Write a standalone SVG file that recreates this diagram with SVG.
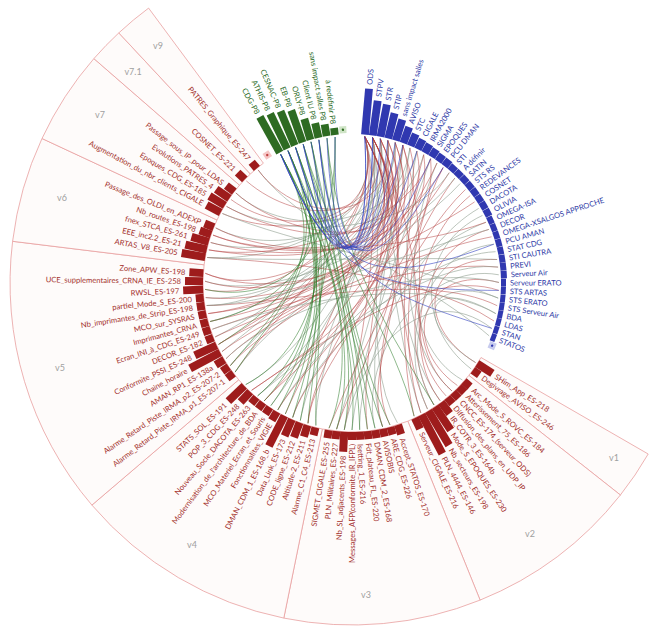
<svg xmlns="http://www.w3.org/2000/svg" width="651" height="635" viewBox="0 0 651 635">
<style>
.sec{fill:#fefbfa;stroke:#e9a0a0;stroke-width:0.8}
.vl{font-family:Lato,'Open Sans',sans-serif;font-size:9px;fill:#a0a0a0;text-anchor:middle}
#nodes text{font-family:Lato,'Open Sans',sans-serif;font-size:7.6px}
.r rect{fill:#9e1c1c}.r text{fill:#a3302c}
.b rect{fill:#3038b0}.b text{fill:#2e3aa6;font-size:8.4px}
.g rect{fill:#2e6b22}.g text{fill:#2a6a1e;font-size:8px}
.L text{text-anchor:end}
#links path{fill:none;stroke-width:0.9}
#links .er{stroke:#b13a3a;stroke-opacity:.55}
#links .eg{stroke:#8c9c8c;stroke-opacity:.65}
#links .ev{stroke:#2f7d2a;stroke-opacity:.6}
#links .eb{stroke:#3040c0;stroke-opacity:.65}
.mk-r{fill:#f5c6c6}.mk-g{fill:#cfe4c6}.mk-b{fill:#c7cbee}
</style>
<g id="sectors">
<path class="sec" d="M481,357.5 L648.2,454 A342 342 0 0 1 620.4,495 L468.9,375.4 A149 149 0 0 0 481,357.5 Z"/>
<path class="sec" d="M468.9,375.4 L620.4,495 A342 342 0 0 1 480.1,600.1 L407.8,421.2 A149 149 0 0 0 468.9,375.4 Z"/>
<path class="sec" d="M407.8,421.2 L480.1,600.1 A342 342 0 0 1 283.8,618.1 L322.3,429 A149 149 0 0 0 407.8,421.2 Z"/>
<path class="sec" d="M322.3,429 L283.8,618.1 A342 342 0 0 1 91.9,505.1 L238.7,379.8 A149 149 0 0 0 322.3,429 Z"/>
<path class="sec" d="M238.7,379.8 L91.9,505.1 A342 342 0 0 1 12.6,241.3 L204.1,264.8 A149 149 0 0 0 238.7,379.8 Z"/>
<path class="sec" d="M204.1,264.8 L12.6,241.3 A342 342 0 0 1 42,138.5 L217,220 A149 149 0 0 0 204.1,264.8 Z"/>
<path class="sec" d="M217,220 L42,138.5 A342 342 0 0 1 93.9,58.6 L239.5,185.2 A149 149 0 0 0 217,220 Z"/>
<path class="sec" d="M239.5,185.2 L93.9,58.6 A342 342 0 0 1 118.8,32.9 L250.4,174 A149 149 0 0 0 239.5,185.2 Z"/>
<path class="sec" d="M250.4,174 L118.8,32.9 A342 342 0 0 1 148.6,8.1 L263.4,163.2 A149 149 0 0 0 250.4,174 Z"/>
<text class="vl" x="614" y="461">v1</text>
<text class="vl" x="530" y="537">v2</text>
<text class="vl" x="366" y="598">v3</text>
<text class="vl" x="192" y="548">v4</text>
<text class="vl" x="60" y="371">v5</text>
<text class="vl" x="62" y="201">v6</text>
<text class="vl" x="100" y="118">v7</text>
<text class="vl" x="133" y="75">v7.1</text>
<text class="vl" x="158" y="49">v9</text>
</g>
<g id="links">
<path class="er" d="M475.6,362.6 C414,325 423.5,256.6 497.1,259.5"/>
<path class="eg" d="M475.6,362.6 C414,325 423.1,271.3 495.8,313.6"/>
<path class="eg" d="M471.2,369 C414,325 419.5,244.6 482.5,215.4"/>
<path class="eg" d="M462.4,380 C397,343 407.1,230.4 437,163"/>
<path class="er" d="M457.4,385.5 C397,343 424,262.9 499,282.5"/>
<path class="eg" d="M451.9,390.9 C397,343 401.7,227.1 416.9,151.1"/>
<path class="er" d="M446.1,395.9 C397,343 421.2,248.4 488.9,229.4"/>
<path class="eg" d="M440.1,400.7 C397,343 391.7,223.7 380.3,138.7"/>
<path class="er" d="M434,405 C397,343 416.2,239.2 470.2,195.6"/>
<path class="eg" d="M434,405 C397,343 423.8,267.1 498.2,298.1"/>
<path class="er" d="M427.5,409.1 C397,343 395.8,224.8 395.2,142.5"/>
<path class="eg" d="M427.5,409.1 C397,343 422.6,252.4 493.8,244.2"/>
<path class="eg" d="M420.8,412.9 C397,343 387.5,223.2 364.8,136.6"/>
<path class="er" d="M420.8,412.9 C397,343 408.8,231.6 443.1,167.6"/>
<path class="er" d="M414.1,416.2 C397,343 403.5,228.1 423.7,154.7"/>
<path class="eg" d="M397.4,422.8 C358,358 389.6,223.4 372.5,137.4"/>
<path class="er" d="M390,425 C358,358 412,234.4 454.9,178"/>
<path class="eg" d="M382.6,426.8 C358,358 397.8,225.5 402.8,145"/>
<path class="eg" d="M375,428.2 C358,358 423.9,260.8 498.8,274.8"/>
<path class="er" d="M367.4,429.2 C358,358 393.7,224.2 387.8,140.4"/>
<path class="eg" d="M359.7,429.8 C358,358 418.5,242.7 478.7,208.4"/>
<path class="eg" d="M352,430 C358,358 405.4,229.2 430.6,158.7"/>
<path class="er" d="M344.3,429.8 C358,358 387.5,223.2 364.8,136.6"/>
<path class="eg" d="M344.3,429.8 C358,358 422,275.3 491.8,328.4"/>
<path class="eg" d="M336.6,429.2 C358,358 399.7,226.2 409.9,147.9"/>
<path class="er" d="M329,428.2 C358,358 414.8,237.6 465.4,189.5"/>
<path class="eg" d="M315.9,425.5 C314,348 391.7,223.7 380.3,138.7"/>
<path class="er" d="M308,423.3 C314,348 410.4,233 449.2,172.7"/>
<path class="eg" d="M300.3,420.6 C314,348 389.6,223.4 372.5,137.4"/>
<path class="eg" d="M292.7,417.5 C314,348 423.1,254.5 495.6,251.7"/>
<path class="er" d="M285.3,414 C314,348 387.5,223.2 364.8,136.6"/>
<path class="eg" d="M277.8,409.9 C314,348 420.4,246.5 485.9,222.3"/>
<path class="eg" d="M270.9,405.6 C314,348 393.7,224.2 387.8,140.4"/>
<path class="er" d="M264.2,400.9 C314,348 407.1,230.4 437,163"/>
<path class="eg" d="M257.7,395.8 C314,348 397.8,225.5 402.8,145"/>
<path class="er" d="M251.6,390.3 C314,348 423.9,265 498.8,290.4"/>
<path class="eg" d="M245.7,384.6 C314,348 389.6,223.4 372.5,137.4"/>
<path class="er" d="M235.1,372.1 C280,305 387.5,223.2 364.8,136.6"/>
<path class="eg" d="M235.1,372.1 C280,305 413.4,235.9 460.2,183.5"/>
<path class="eg" d="M230.4,365.6 C280,305 395.8,224.8 395.2,142.5"/>
<path class="er" d="M226,358.7 C280,305 422,250.4 491.6,236.8"/>
<path class="eg" d="M222,351.6 C280,305 391.7,223.7 380.3,138.7"/>
<path class="er" d="M218.5,344.4 C280,305 408.8,231.6 443.1,167.6"/>
<path class="eg" d="M215.2,336.9 C280,305 389.6,223.4 372.5,137.4"/>
<path class="er" d="M212.4,329.2 C280,305 423.7,258.7 498.1,267.1"/>
<path class="eg" d="M210.1,321.5 C280,305 399.7,226.2 409.9,147.9"/>
<path class="er" d="M208.2,313.6 C280,305 417.3,240.9 474.6,201.9"/>
<path class="eg" d="M206.7,305.5 C280,305 393.7,224.2 387.8,140.4"/>
<path class="er" d="M206.7,305.5 C280,305 423.5,269.2 497.2,305.7"/>
<path class="eg" d="M205.7,297.6 C280,305 403.5,228.1 423.7,154.7"/>
<path class="er" d="M205.1,289.4 C280,305 387.5,223.2 364.8,136.6"/>
<path class="eg" d="M205,281.2 C280,305 412,234.4 454.9,178"/>
<path class="er" d="M205.3,273.3 C280,305 397.8,225.5 402.8,145"/>
<path class="eg" d="M207.2,257.5 C280,262 387.5,223.2 364.8,136.6"/>
<path class="er" d="M207.2,257.5 C280,262 422.6,273.3 494,321"/>
<path class="er" d="M208.8,249.9 C280,262 405.4,229.2 430.6,158.7"/>
<path class="eg" d="M210.7,242.5 C280,262 389.6,223.4 372.5,137.4"/>
<path class="er" d="M213,235.1 C280,262 420.4,246.5 485.9,222.3"/>
<path class="eg" d="M215.7,227.9 C280,262 395.8,224.8 395.2,142.5"/>
<path class="er" d="M222.4,213.5 C289,242 391.7,223.7 380.3,138.7"/>
<path class="eg" d="M226.5,206.4 C289,242 410.4,233 449.2,172.7"/>
<path class="er" d="M231,199.5 C289,242 387.5,223.2 364.8,136.6"/>
<path class="eg" d="M235.8,192.9 C289,242 401.7,227.1 416.9,151.1"/>
<path class="er" d="M246.3,180.9 C301,228 389.6,223.4 372.5,137.4"/>
<path class="eg" d="M258.1,169.9 C301,228 421.2,277.4 489.2,335.9"/>
<path class="er" d="M258.1,169.9 C301,228 393.7,224.2 387.8,140.4"/>
<path class="er" d="M230.4,365.6 C280,305 440,265 372.5,137.4"/>
<path class="er" d="M222,351.6 C280,305 440,265 364.8,136.6"/>
<path class="er" d="M215.2,336.9 C280,305 440,265 387.8,140.4"/>
<path class="er" d="M210.1,321.5 C280,305 440,265 380.3,138.7"/>
<path class="er" d="M208.2,313.6 C280,305 440,265 395.2,142.5"/>
<path class="er" d="M205.7,297.6 C280,305 440,265 372.5,137.4"/>
<path class="er" d="M205,281.2 C280,305 440,265 364.8,136.6"/>
<path class="er" d="M205.3,273.3 C280,305 440,265 409.9,147.9"/>
<path class="er" d="M218.5,344.4 C280,305 440,265 423.7,154.7"/>
<path class="er" d="M208.8,249.9 C280,262 440,265 380.3,138.7"/>
<path class="er" d="M210.7,242.5 C280,262 440,265 402.8,145"/>
<path class="er" d="M213,235.1 C280,262 440,265 416.9,151.1"/>
<path class="er" d="M215.7,227.9 C280,262 440,265 364.8,136.6"/>
<path class="er" d="M226.5,206.4 C289,242 440,265 372.5,137.4"/>
<path class="er" d="M235.8,192.9 C289,242 440,265 387.8,140.4"/>
<path class="er" d="M308,423.3 C314,348 440,265 380.3,138.7"/>
<path class="er" d="M292.7,417.5 C314,348 440,265 430.6,158.7"/>
<path class="er" d="M277.8,409.9 C314,348 440,265 372.5,137.4"/>
<path class="er" d="M264.2,400.9 C314,348 440,265 364.8,136.6"/>
<path class="er" d="M251.6,390.3 C314,348 440,265 395.2,142.5"/>
<path class="er" d="M382.6,426.8 C358,358 440,265 364.8,136.6"/>
<path class="er" d="M336.6,429.2 C358,358 440,265 372.5,137.4"/>
<path class="er" d="M451.9,390.9 C397,343 440,265 372.5,137.4"/>
<path class="er" d="M440.1,400.7 C397,343 440,265 402.8,145"/>
<path class="eg" d="M226,358.7 C280,305 424,262.9 499,282.5"/>
<path class="eg" d="M212.4,329.2 C280,305 423.1,271.3 495.8,313.6"/>
<path class="eg" d="M207.2,257.5 C280,262 423.5,256.6 497.1,259.5"/>
<path class="eg" d="M222.4,213.5 C289,242 423.8,267.1 498.2,298.1"/>
<path class="eg" d="M257.7,395.8 C314,348 423.7,258.7 498.1,267.1"/>
<path class="eg" d="M206.7,305.5 C280,305 421.2,248.4 488.9,229.4"/>
<path class="ev" d="M280.7,154.4 C337,258 314,348 300.3,420.6"/>
<path class="ev" d="M280.7,154.4 C337,258 314,348 270.9,405.6"/>
<path class="ev" d="M280.7,154.4 C337,258 280,305 230.4,365.6"/>
<path class="ev" d="M280.7,154.4 C337,258 358,358 336.6,429.2"/>
<path class="ev" d="M280.7,154.4 C337,258 358,358 352,430"/>
<path class="ev" d="M288,150.7 C337,258 314,348 315.9,425.5"/>
<path class="ev" d="M288,150.7 C337,258 314,348 285.3,414"/>
<path class="ev" d="M288,150.7 C337,258 358,358 329,428.2"/>
<path class="ev" d="M288,150.7 C337,258 280,305 218.5,344.4"/>
<path class="ev" d="M288,150.7 C337,258 314,348 264.2,400.9"/>
<path class="ev" d="M295.5,147.3 C337,258 358,358 359.7,429.8"/>
<path class="ev" d="M295.5,147.3 C337,258 314,348 257.7,395.8"/>
<path class="ev" d="M295.5,147.3 C337,258 280,305 235.1,372.1"/>
<path class="ev" d="M295.5,147.3 C337,258 358,358 375,428.2"/>
<path class="ev" d="M303.2,144.3 C337,258 358,358 382.6,426.8"/>
<path class="ev" d="M303.2,144.3 C337,258 314,348 308,423.3"/>
<path class="ev" d="M303.2,144.3 C337,258 397,343 414.1,416.2"/>
<path class="ev" d="M311,141.8 C337,258 358,358 344.3,429.8"/>
<path class="ev" d="M311,141.8 C337,258 314,348 245.7,384.6"/>
<path class="ev" d="M311,141.8 C337,258 280,305 210.1,321.5"/>
<path class="ev" d="M318.9,139.8 C337,258 358,358 390,425"/>
<path class="ev" d="M318.9,139.8 C337,258 314,348 292.7,417.5"/>
<path class="ev" d="M327,138.1 C337,258 358,358 367.4,429.2"/>
<path class="ev" d="M327,138.1 C337,258 397,343 434,405"/>
<path class="ev" d="M335.1,137 C337,258 314,348 277.8,409.9"/>
<path class="ev" d="M335.1,137 C337,258 280,305 205.1,289.4"/>
<path class="eb" d="M364.8,136.6 C372,290 332,275 280.7,154.4"/>
<path class="eb" d="M364.8,136.6 C372,290 332,275 303.2,144.3"/>
<path class="eb" d="M372.5,137.4 C372,290 332,275 288,150.7"/>
<path class="eb" d="M372.5,137.4 C372,290 332,275 318.9,139.8"/>
<path class="eb" d="M380.3,138.7 C372,290 332,275 295.5,147.3"/>
<path class="eb" d="M387.8,140.4 C372,290 332,275 311,141.8"/>
<path class="eb" d="M395.2,142.5 C372,290 332,275 280.7,154.4"/>
<path class="eb" d="M402.8,145 C372,290 332,275 327,138.1"/>
<path class="eb" d="M416.9,151.1 C372,290 332,275 288,150.7"/>
<path class="eb" d="M430.6,158.7 C372,290 332,275 303.2,144.3"/>
<path class="eb" d="M443.1,167.6 C372,290 332,275 335.1,137"/>
<path class="eb" d="M493.8,244.2 C372,290 332,275 295.5,147.3"/>
<path class="eb" d="M498.8,290.4 C372,290 332,275 280.7,154.4"/>
<path class="eb" d="M491.8,328.4 C372,290 332,275 318.9,139.8"/>
</g>
<g id="nodes" transform="translate(352,283)">
<g id="n-ODS" class="b" transform="rotate(-85)"><rect x="149" y="-3.9" width="46" height="7.8"/><text x="199" y="3">ODS</text></g>
<g id="n-STPV" class="b" transform="rotate(-81.97)"><rect x="149" y="-3.9" width="35" height="7.8"/><text x="188" y="3">STPV</text></g>
<g id="n-STR" class="b" transform="rotate(-78.94)"><rect x="149" y="-3.9" width="33" height="7.8"/><text x="186" y="3">STR</text></g>
<g id="n-STIP" class="b" transform="rotate(-75.91)"><rect x="149" y="-3.9" width="26" height="7.8"/><text x="179" y="3">STIP</text></g>
<g id="n-sans-impact" class="b" transform="rotate(-72.88)"><rect x="149" y="-3.9" width="22" height="7.8"/><text x="175" y="3">sans impact salles</text></g>
<g id="n-AVISO" class="b" transform="rotate(-69.85)"><rect x="149" y="-3.9" width="17" height="7.8"/><text x="170" y="3">AVISO</text></g>
<g id="n-STC" class="b" transform="rotate(-66.82)"><rect x="149" y="-3.9" width="13" height="7.8"/><text x="166" y="3">STC</text></g>
<g id="n-CIGALE" class="b" transform="rotate(-63.79)"><rect x="149" y="-3.9" width="11" height="7.8"/><text x="164" y="3">CIGALE</text></g>
<g id="n-IRMA2000" class="b" transform="rotate(-60.76)"><rect x="149" y="-3.9" width="10" height="7.8"/><text x="163" y="3">IRMA2000</text></g>
<g id="n-SIGMA" class="b" transform="rotate(-57.73)"><rect x="149" y="-3.9" width="9" height="7.8"/><text x="162" y="3">SIGMA</text></g>
<g id="n-EPOQUES" class="b" transform="rotate(-54.7)"><rect x="149" y="-3.9" width="8" height="7.8"/><text x="161" y="3">EPOQUES</text></g>
<g id="n-PCU-DMAN" class="b" transform="rotate(-51.67)"><rect x="149" y="-3.9" width="8" height="7.8"/><text x="161" y="3">PCU DMAN</text></g>
<g id="n-STI" class="b" transform="rotate(-48.64)"><rect x="149" y="-3.9" width="7" height="7.8"/><text x="160" y="3">STI</text></g>
<g id="n-A-definir" class="b" transform="rotate(-45.61)"><rect x="149" y="-3.9" width="7" height="7.8"/><text x="160" y="3">A définir</text></g>
<g id="n-SATIN" class="b" transform="rotate(-42.58)"><rect x="149" y="-3.9" width="7" height="7.8"/><text x="160" y="3">SATIN</text></g>
<g id="n-STS-RS" class="b" transform="rotate(-39.55)"><rect x="149" y="-3.9" width="7" height="7.8"/><text x="160" y="3">STS RS</text></g>
<g id="n-REDEVANCES" class="b" transform="rotate(-36.52)"><rect x="149" y="-3.9" width="7" height="7.8"/><text x="160" y="3">REDEVANCES</text></g>
<g id="n-COSNET" class="b" transform="rotate(-33.49)"><rect x="149" y="-3.9" width="7" height="7.8"/><text x="160" y="3">COSNET</text></g>
<g id="n-DACOTA" class="b" transform="rotate(-30.46)"><rect x="149" y="-3.9" width="7" height="7.8"/><text x="160" y="3">DACOTA</text></g>
<g id="n-OLIVIA" class="b" transform="rotate(-27.43)"><rect x="149" y="-3.9" width="7" height="7.8"/><text x="160" y="3">OLIVIA</text></g>
<g id="n-OMEGA-ISA" class="b" transform="rotate(-24.4)"><rect x="149" y="-3.9" width="6" height="7.8"/><text x="159" y="3">OMEGA-ISA</text></g>
<g id="n-DECOR" class="b" transform="rotate(-21.37)"><rect x="149" y="-3.9" width="6" height="7.8"/><text x="159" y="3">DECOR</text></g>
<g id="n-OMEGA-XSALGOS" class="b" transform="rotate(-18.34)"><rect x="149" y="-3.9" width="6" height="7.8"/><text x="159" y="3">OMEGA-XSALGOS APPROCHE</text></g>
<g id="n-PCU-AMAN" class="b" transform="rotate(-15.31)"><rect x="149" y="-3.9" width="6" height="7.8"/><text x="159" y="3">PCU AMAN</text></g>
<g id="n-STAT-CDG" class="b" transform="rotate(-12.28)"><rect x="149" y="-3.9" width="6" height="7.8"/><text x="159" y="3">STAT CDG</text></g>
<g id="n-STI-CAUTRA" class="b" transform="rotate(-9.25)"><rect x="149" y="-3.9" width="6" height="7.8"/><text x="159" y="3">STI CAUTRA</text></g>
<g id="n-PREVI" class="b" transform="rotate(-6.22)"><rect x="149" y="-3.9" width="6" height="7.8"/><text x="159" y="3">PREVI</text></g>
<g id="n-Serveur-Air" class="b" transform="rotate(-3.19)"><rect x="149" y="-3.9" width="6" height="7.8"/><text x="159" y="3">Serveur Air</text></g>
<g id="n-Serveur-ERATO" class="b" transform="rotate(-0.16)"><rect x="149" y="-3.9" width="5" height="7.8"/><text x="158" y="3">Serveur ERATO</text></g>
<g id="n-STS-ARTAS" class="b" transform="rotate(2.87)"><rect x="149" y="-3.9" width="5" height="7.8"/><text x="158" y="3">STS ARTAS</text></g>
<g id="n-STS-ERATO" class="b" transform="rotate(5.9)"><rect x="149" y="-3.9" width="5" height="7.8"/><text x="158" y="3">STS ERATO</text></g>
<g id="n-STS-Serveur-Air" class="b" transform="rotate(8.93)"><rect x="149" y="-3.9" width="5" height="7.8"/><text x="158" y="3">STS Serveur Air</text></g>
<g id="n-BDA" class="b" transform="rotate(11.96)"><rect x="149" y="-3.9" width="5" height="7.8"/><text x="158" y="3">BDA</text></g>
<g id="n-LDAS" class="b" transform="rotate(14.99)"><rect x="149" y="-3.9" width="5" height="7.8"/><text x="158" y="3">LDAS</text></g>
<g id="n-STAN" class="b" transform="rotate(18.02)"><rect x="149" y="-3.9" width="5" height="7.8"/><text x="158" y="3">STAN</text></g>
<g id="n-STATOS" class="b" transform="rotate(21.05)"><rect x="149" y="-3.9" width="5" height="7.8"/><text x="158" y="3">STATOS</text></g>
<g id="m-blue" transform="rotate(24.08)"><rect class="mk-b" x="150" y="-3.5" width="7" height="7"/><circle cx="153.5" cy="0" r="1.2" fill="#3038b0"/></g>

<g id="n-SHim-App" class="r" transform="rotate(32.8)"><rect x="149" y="-4" width="18" height="8"/><text x="171" y="3">SHim_App_ES-218</text></g>
<g id="n-Degivrage-AVISO" class="r" transform="rotate(35.8)"><rect x="149" y="-4" width="8" height="8"/><text x="161" y="3">Degivrage_AVISO_ES-246</text></g>
<g id="n-Arc-Mode-S" class="r" transform="rotate(41.3)"><rect x="149" y="-4" width="8" height="8"/><text x="161" y="3">Arc_Mode_S_ROVC_ES-184</text></g>
<g id="n-Atterissement" class="r" transform="rotate(44.2)"><rect x="149" y="-4" width="8" height="8"/><text x="161" y="3">Atterissement_75_ES-186</text></g>
<g id="n-CNCC" class="r" transform="rotate(47.2)"><rect x="149" y="-4" width="8" height="8"/><text x="161" y="3">CNCC_ES-174_(serveur_ODS)</text></g>
<g id="n-Diffusion" class="r" transform="rotate(50.2)"><rect x="149" y="-4" width="8" height="8"/><text x="161" y="3">Diffusion_des_plans_en_UDP_IP</text></g>
<g id="n-IR-COTR" class="r" transform="rotate(53.2)"><rect x="149" y="-4" width="14" height="8"/><text x="167" y="3">IR_COTR_3_ES-164b</text></g>
<g id="n-Mode-S-EPOQUES" class="r" transform="rotate(56.1)"><rect x="149" y="-4" width="28" height="8"/><text x="181" y="3">Mode_S_EPOQUES_ES-230</text></g>
<g id="n-Nb-secteurs" class="r" transform="rotate(59.1)"><rect x="149" y="-4" width="40" height="8"/><text x="193" y="3">Nb_secteurs_ES-198</text></g>
<g id="n-PLN" class="r" transform="rotate(62.1)"><rect x="149" y="-4" width="44" height="8"/><text x="197" y="3">PLN_4444_ES-146</text></g>
<g id="n-Serveur-CIGALE" class="r" transform="rotate(65)"><rect x="149" y="-4" width="12" height="8"/><text x="165" y="3">Serveur_CIGALE_ES-216</text></g>

<g id="n-Accept-STATOS" class="r" transform="rotate(72)"><rect x="149" y="-4" width="10" height="8"/><text x="163" y="3">Accept_STATOS_ES-170</text></g>
<g id="n-ARE-CDG" class="r" transform="rotate(75)"><rect x="149" y="-4" width="8" height="8"/><text x="161" y="3">ARE_CDG_ES-226</text></g>
<g id="n-AVISOBIS" class="r" transform="rotate(78)"><rect x="149" y="-4" width="8" height="8"/><text x="161" y="3">AVISOBIS</text></g>
<g id="n-DMAN-CDM-2" class="r" transform="rotate(81)"><rect x="149" y="-4" width="8" height="8"/><text x="161" y="3">DMAN_CDM_2_ES-168</text></g>
<g id="n-Fdt-plateau" class="r" transform="rotate(84)"><rect x="149" y="-4" width="8" height="8"/><text x="161" y="3">Fdt_plateau_FL_ES-220</text></g>
<g id="n-Isetting" class="r" transform="rotate(87)"><rect x="149" y="-4" width="8" height="8"/><text x="161" y="3">Isetting_1_ES-216</text></g>
<g id="n-Messages-AFP" class="r L" transform="rotate(90)"><rect x="149" y="-4" width="8" height="8"/><text transform="rotate(180)" x="-161" y="3">Messages_AFP(conformite_IR_IFPL)</text></g>
<g id="n-Nb-SL" class="r L" transform="rotate(93)"><rect x="149" y="-4" width="20" height="8"/><text transform="rotate(180)" x="-173" y="3">Nb_SL_adjacents_ES-198</text></g>
<g id="n-PLN-Militaires" class="r L" transform="rotate(96)"><rect x="149" y="-4" width="8" height="8"/><text transform="rotate(180)" x="-161" y="3">PLN_Militaires_ES-227</text></g>
<g id="n-SIGMET" class="r L" transform="rotate(99)"><rect x="149" y="-4" width="8" height="8"/><text transform="rotate(180)" x="-161" y="3">SIGMET_CIGALE_ES-255</text></g>

<g id="n-Alarme-C1" class="r L" transform="rotate(104.2)"><rect x="149" y="-4" width="8" height="8"/><text transform="rotate(180)" x="-161" y="3">Alarme_C1_C4_ES-213</text></g>
<g id="n-Altitude" class="r L" transform="rotate(107.4)"><rect x="149" y="-4" width="12" height="8"/><text transform="rotate(180)" x="-165" y="3">Altitude-2_ES-211</text></g>
<g id="n-CODE" class="r L" transform="rotate(110.6)"><rect x="149" y="-4" width="16" height="8"/><text transform="rotate(180)" x="-169" y="3">CODE_ligne_ES-212</text></g>
<g id="n-Data-Link" class="r L" transform="rotate(113.8)"><rect x="149" y="-4" width="18" height="8"/><text transform="rotate(180)" x="-171" y="3">Data_Link_ES-173</text></g>
<g id="n-DMAN-CDM-1" class="r L" transform="rotate(117)"><rect x="149" y="-4" width="34" height="8"/><text transform="rotate(180)" x="-187" y="3">DMAN_CDM_1_ES-168_b</text></g>
<g id="n-Fonctionnalites" class="r L" transform="rotate(120.3)"><rect x="149" y="-4" width="10" height="8"/><text transform="rotate(180)" x="-163" y="3">Fonctionnalites_VIGIE</text></g>
<g id="n-MCO-Materiel" class="r L" transform="rotate(123.5)"><rect x="149" y="-4" width="8" height="8"/><text transform="rotate(180)" x="-161" y="3">MCO_Materiel_Ecran_et_Souris</text></g>
<g id="n-Modernisation" class="r L" transform="rotate(126.7)"><rect x="149" y="-4" width="8" height="8"/><text transform="rotate(180)" x="-161" y="3">Modernisation_de_l'architecture_de_BDA</text></g>
<g id="n-Nouveau-Socle" class="r L" transform="rotate(129.9)"><rect x="149" y="-4" width="8" height="8"/><text transform="rotate(180)" x="-161" y="3">Nouveau_Socle_DACOTA_ES-263</text></g>
<g id="n-POP-3" class="r L" transform="rotate(133.1)"><rect x="149" y="-4" width="14" height="8"/><text transform="rotate(180)" x="-167" y="3">POP_3_CDG_ES-248</text></g>
<g id="n-STATS-SOL" class="r L" transform="rotate(136.3)"><rect x="149" y="-4" width="22" height="8"/><text transform="rotate(180)" x="-175" y="3">STATS_SOL_ES-191</text></g>

<g id="n-Alarme-p1" class="r L" transform="rotate(142.7)"><rect x="149" y="-4" width="8" height="8"/><text transform="rotate(180)" x="-161" y="3">Alarme_Retard_Piste_IRMA_p1_ES-207-1</text></g>
<g id="n-Alarme-p2" class="r L" transform="rotate(145.8)"><rect x="149" y="-4" width="8" height="8"/><text transform="rotate(180)" x="-161" y="3">Alarme_Retard_Piste_IRMA_p2_ES-207-2</text></g>
<g id="n-AMAN-RP1" class="r L" transform="rotate(149)"><rect x="149" y="-4" width="10" height="8"/><text transform="rotate(180)" x="-163" y="3">AMAN_RP1_ES-138a</text></g>
<g id="n-Chaine-horaire" class="r L" transform="rotate(152.2)"><rect x="149" y="-4" width="34" height="8"/><text transform="rotate(180)" x="-187" y="3">Chaine_horaire</text></g>
<g id="n-Conformite" class="r L" transform="rotate(155.3)"><rect x="149" y="-4" width="24" height="8"/><text transform="rotate(180)" x="-177" y="3">Conformite_PSSI_ES-248</text></g>
<g id="n-DECOR-ES" class="r L" transform="rotate(158.5)"><rect x="149" y="-4" width="8" height="8"/><text transform="rotate(180)" x="-161" y="3">DECOR_ES-182</text></g>
<g id="n-Ecran-INI" class="r L" transform="rotate(161.7)"><rect x="149" y="-4" width="8" height="8"/><text transform="rotate(180)" x="-161" y="3">Ecran_INI_à_CDG_ES-249</text></g>
<g id="n-Imprimantes" class="r L" transform="rotate(164.8)"><rect x="149" y="-4" width="8" height="8"/><text transform="rotate(180)" x="-161" y="3">Imprimantes_CRNA</text></g>
<g id="n-MCO-SYSRAS" class="r L" transform="rotate(168)"><rect x="149" y="-4" width="8" height="8"/><text transform="rotate(180)" x="-161" y="3">MCO_sur_SYSRAS</text></g>
<g id="n-Nb-imprimantes" class="r L" transform="rotate(171.2)"><rect x="149" y="-4" width="8" height="8"/><text transform="rotate(180)" x="-161" y="3">Nb_imprimantes_de_Strip_ES-198</text></g>
<g id="n-partiel-Mode-S" class="r L" transform="rotate(174.3)"><rect x="149" y="-4" width="8" height="8"/><text transform="rotate(180)" x="-161" y="3">partiel_Mode_S_ES-200</text></g>
<g id="n-RWSL" class="r L" transform="rotate(177.5)"><rect x="149" y="-4" width="20" height="8"/><text transform="rotate(180)" x="-173" y="3">RWSL_ES-197</text></g>
<g id="n-UCE" class="r L" transform="rotate(180.7)"><rect x="149" y="-4" width="18" height="8"/><text transform="rotate(180)" x="-171" y="3">UCE_supplementaires_CRNA_IE_ES-258</text></g>
<g id="n-Zone-APW" class="r L" transform="rotate(183.8)"><rect x="149" y="-4" width="14" height="8"/><text transform="rotate(180)" x="-167" y="3">Zone_APW_ES-198</text></g>

<g id="n-ARTAS-V8" class="r L" transform="rotate(190)"><rect x="149" y="-4" width="24" height="8"/><text transform="rotate(180)" x="-177" y="3">ARTAS_V8_ES-205</text></g>
<g id="n-EEE" class="r L" transform="rotate(193)"><rect x="149" y="-4" width="22" height="8"/><text transform="rotate(180)" x="-175" y="3">EEE_inc2.2_ES-21</text></g>
<g id="n-fnex-STCA" class="r L" transform="rotate(196)"><rect x="149" y="-4" width="18" height="8"/><text transform="rotate(180)" x="-171" y="3">fnex_STCA_ES-261</text></g>
<g id="n-Nb-routes" class="r L" transform="rotate(199)"><rect x="149" y="-4" width="12" height="8"/><text transform="rotate(180)" x="-165" y="3">Nb_routes_ES-198</text></g>
<g id="n-Passage-OLDI" class="r L" transform="rotate(202)"><rect x="149" y="-4" width="10" height="8"/><text transform="rotate(180)" x="-163" y="3">Passage_des_OLDI_en_ADEXP</text></g>

<g id="n-Augmentation" class="r L" transform="rotate(208.2)"><rect x="149" y="-4" width="16" height="8"/><text transform="rotate(180)" x="-169" y="3">Augmentation_du_nbr_clients_CIGALE</text></g>
<g id="n-Epoques-CDG" class="r L" transform="rotate(211.4)"><rect x="149" y="-4" width="18" height="8"/><text transform="rotate(180)" x="-171" y="3">Epoques_CDG_ES-185</text></g>
<g id="n-Evolutions-PATRES" class="r L" transform="rotate(214.6)"><rect x="149" y="-4" width="16" height="8"/><text transform="rotate(180)" x="-169" y="3">Evolutions_PATRES_4</text></g>
<g id="n-Passage-IP" class="r L" transform="rotate(217.8)"><rect x="149" y="-4" width="10" height="8"/><text transform="rotate(180)" x="-163" y="3">Passage_sous_IP_pour_LDAS</text></g>
<g id="n-COSNET-ES" class="r L" transform="rotate(224)"><rect x="149" y="-4" width="10" height="8"/><text transform="rotate(180)" x="-163" y="3">COSNET_ES-221</text></g>
<g id="n-PATRES-Graphique" class="r L" transform="rotate(230.3)"><rect x="149" y="-4" width="8" height="8"/><text transform="rotate(180)" x="-161" y="3">PATRES_Graphique_ES-247</text></g>
<g id="m-red" transform="rotate(236.5)"><rect class="mk-r" x="150" y="-3.5" width="7" height="7"/><circle cx="153.5" cy="0" r="1.2" fill="#c04040"/></g>

<g id="n-CDG-P8" class="g L" transform="rotate(241)"><rect x="149" y="-3.9" width="41" height="7.8"/><text transform="rotate(180)" x="-194" y="3">CDG-P8</text></g>
<g id="n-ATHIS-P8" class="g L" transform="rotate(244.2)"><rect x="149" y="-3.9" width="39" height="7.8"/><text transform="rotate(180)" x="-192" y="3">ATHIS-P8</text></g>
<g id="n-CESNAC-P8" class="g L" transform="rotate(247.4)"><rect x="149" y="-3.9" width="37" height="7.8"/><text transform="rotate(180)" x="-190" y="3">CESNAC-P8</text></g>
<g id="n-EB-P8" class="g L" transform="rotate(250.6)"><rect x="149" y="-3.9" width="34" height="7.8"/><text transform="rotate(180)" x="-187" y="3">EB-P8</text></g>
<g id="n-ORLY-P8" class="g L" transform="rotate(253.8)"><rect x="149" y="-3.9" width="22" height="7.8"/><text transform="rotate(180)" x="-175" y="3">ORLY-P8</text></g>
<g id="n-Client-P8" class="g L" transform="rotate(257)"><rect x="149" y="-3.9" width="15" height="7.8"/><text transform="rotate(180)" x="-168" y="3">Client IU P8</text></g>
<g id="n-sans-impact-P8" class="g L" transform="rotate(260.2)"><rect x="149" y="-3.9" width="12" height="7.8"/><text transform="rotate(180)" x="-165" y="3">sans impact salles P8</text></g>
<g id="n-a-redefinir-P8" class="g L" transform="rotate(263.4)"><rect x="149" y="-3.9" width="7" height="7.8"/><text transform="rotate(180)" x="-160" y="3">à redéfinir P8</text></g>
<g id="m-green" transform="rotate(266.6)"><rect class="mk-g" x="150" y="-3.5" width="7" height="7"/><circle cx="153.5" cy="0" r="1.2" fill="#2e6b22"/></g>
</g>
</svg>
